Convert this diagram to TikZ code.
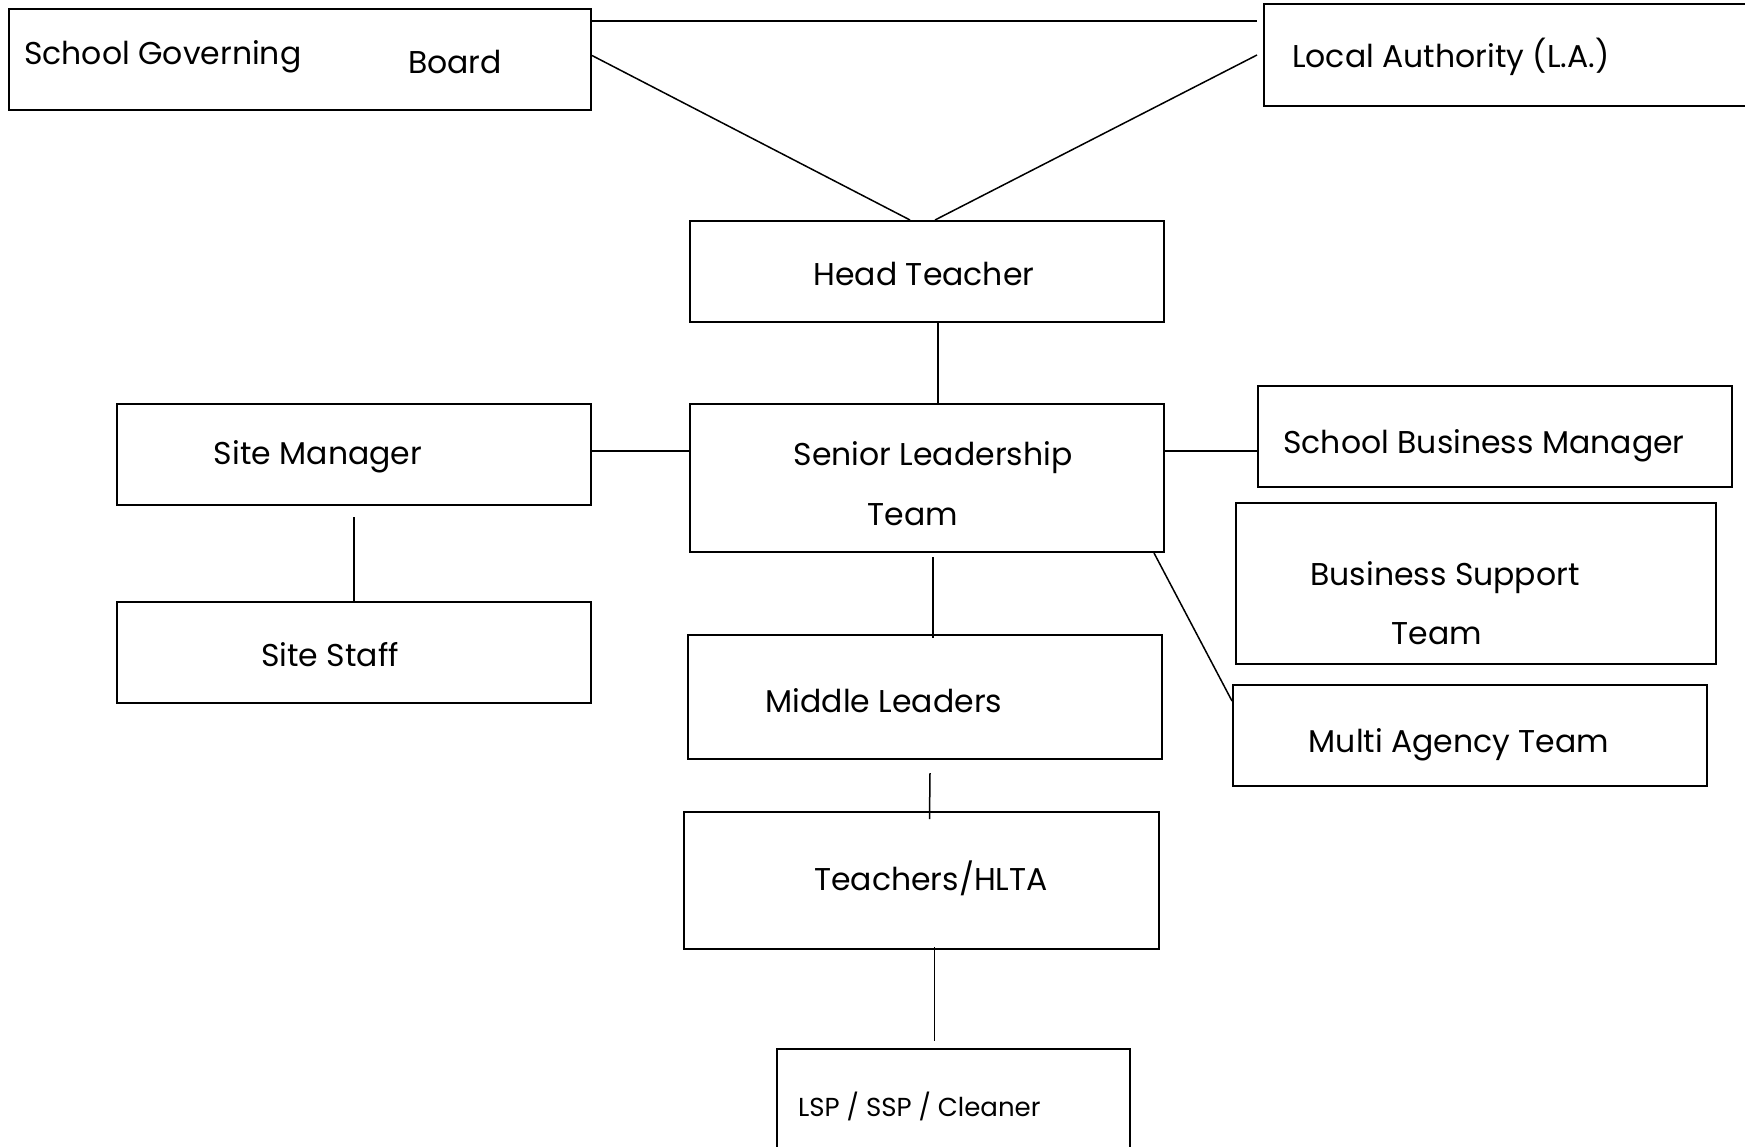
\documentclass[tikz,border=0pt]{standalone}
\usepackage{fontspec}
\setmainfont{Poppins}

\begin{document}
\begin{tikzpicture}[x=1pt, y=-1pt,
  box/.style={draw=black, line width=2pt, minimum width=474pt, minimum height=101pt, inner sep=0pt},
  txt/.style={inner sep=0pt, yshift=-4pt, font=\fontsize{31.5}{36}\selectfont},
  link/.style={draw=black, line width=1.5pt}]
			\useasboundingbox (0,0) rectangle (1745,1146);
			
			\node[box, minimum width=582pt] (gov) at (300,59.5){};
			\node[box, minimum width=496pt, minimum height=102pt] (la) at (1512,55){};
			\node[box] (head) at (927,271.5){};
			\node[box, minimum height=148pt] (slt) at (927,478){};
			\node[box] (siteman) at (354,454.5){};
			\node[box] (sitestaff) at (354,652.5){};
			\node[box] (sbm) at (1495,436.5){};
			\node[box, minimum width=480pt, minimum height=161pt] (bst) at (1476,583.5){};
			\node[box] (mat) at (1470,735){};
			\node[box, minimum height=124pt] (middle) at (925,697){};
			\node[box, minimum width=475pt, minimum height=137pt] (teachers) at (921.5,880.5){};
			\node[box, minimum width=353pt, minimum height=121pt] (lsp) at (953.5,1109.5){};
			
			\node[txt, anchor=west] (gov-t1) at (24,53){School Governing};
			\node[txt] (gov-t2) at (455,58){Board};
			\node[txt, anchor=west] (la-t) at (1292,53){Local Authority (L.A.)};
			\node[txt] (head-t) at (924,270){Head Teacher};
			\node[txt] (slt-t1) at (933,454){Senior Leadership};
			\node[txt] (slt-t2) at (913,511){Team};
			\node[txt] (siteman-t) at (318,453){Site Manager};
			\node[txt] (sitestaff-t) at (330,651){Site Staff};
			\node[txt] (sbm-t) at (1484,442){School Business Manager};
			\node[txt] (bst-t1) at (1445,574){Business Support};
			\node[txt] (bst-t2) at (1437,630){Team};
			\node[txt] (mat-t) at (1459,741){Multi Agency Team};
			\node[txt] (middle-t) at (884,697){Middle Leaders};
			\node[txt] (teachers-t) at (931,874){Teachers/HLTA};
			\node[txt, anchor=west, font=\fontsize{26}{30}\selectfont] (lsp-t) at (798,1102){LSP / SSP / Cleaner};
			
			\path[link] ([yshift=-13pt]gov.north east) -- ([yshift=-13pt,xshift=-6pt]gov.north east -| la.west);
			\path[link] ([yshift=4pt]gov.east) -- ([xshift=-17pt]head.north);
			\path[link] ([xshift=-6pt]la.west) -- ([xshift=8pt]head.north);
			\path[link] ([xshift=11pt]head.south) -- ([xshift=11pt]slt.north);
			\path[link] ([yshift=3.5pt]siteman.east) -- ([yshift=3.5pt]siteman.east -| slt.west);
			\path[link] ([yshift=-11pt]siteman.south) -- (sitestaff.north);
			\path[link] ([yshift=27pt]slt.east) -- ([yshift=27pt]slt.east -| sbm.west);
			\path[link] ([xshift=-11pt]slt.south east) -- ([yshift=34pt]mat.west);
			\path[link] ([xshift=6pt,yshift=-4pt]slt.south) -- ([xshift=8pt,yshift=-4pt]middle.north);
			\path[link] ([xshift=5pt,yshift=-13pt]middle.south) -- ([xshift=8pt,yshift=-8pt]teachers.north);
			\path[link] ([xshift=13pt,yshift=3pt]teachers.south) -- ([xshift=-19pt,yshift=7pt]lsp.north);
			\end{tikzpicture}
\end{document}
